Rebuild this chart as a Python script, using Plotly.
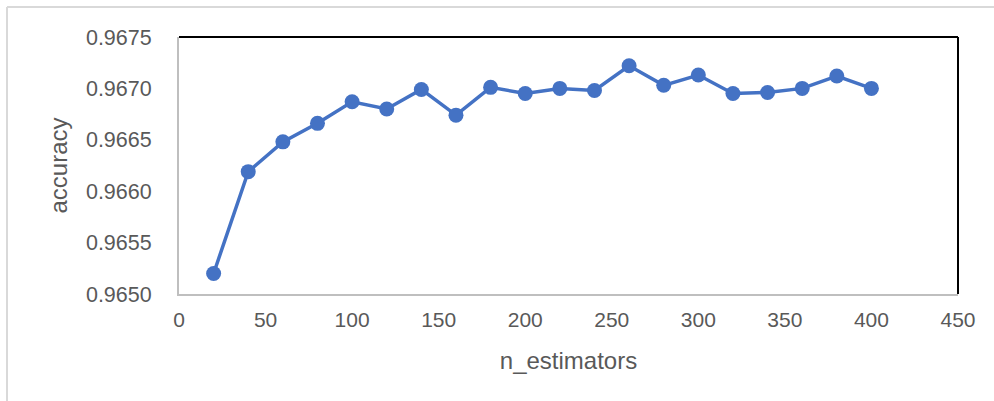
import plotly.graph_objects as go

# Random forest tuning: accuracy vs number of trees
n_estimators = [20, 40, 60, 80, 100, 120, 140, 160, 180, 200,
                220, 240, 260, 280, 300, 320, 340, 360, 380, 400]
accuracy = [0.96520, 0.96619, 0.96648, 0.96666, 0.96687, 0.96680, 0.96699, 0.96674,
            0.96701, 0.96695, 0.96700, 0.96698, 0.96722, 0.96703, 0.96713, 0.96695,
            0.96696, 0.96700, 0.96712, 0.96700]

x_ticks = [0, 50, 100, 150, 200, 250, 300, 350, 400, 450]
y_ticks = [0.9650, 0.9655, 0.9660, 0.9665, 0.9670, 0.9675]

W, H = 994, 401
L, R, T, B = 179, 958, 37, 294  # plot area edges in pixels

def px(x):
    return (x - L) / (R - L)

def py(y):
    return (B - y) / (B - T)

blue = "#4472C4"
grey_text = "#595959"
regular = "Liberation Sans, Arial, sans-serif"

fig = go.Figure(
    go.Scatter(
        x=n_estimators,
        y=accuracy,
        mode="lines+markers",
        line=dict(color=blue, width=3.5),
        marker=dict(color=blue, size=15),
        showlegend=False,
    )
)

fig.update_layout(
    width=W,
    height=H,
    margin=dict(l=L, r=W - R, t=T, b=H - B, pad=0),
    paper_bgcolor="white",
    plot_bgcolor="white",
    font=dict(family=regular, size=20, color=grey_text),
    xaxis=dict(
        range=[0, 450],
        tickvals=x_ticks,
        ticktext=[str(v) for v in x_ticks],
        tickfont=dict(family=regular, size=21, color=grey_text),
        showgrid=False,
        zeroline=False,
        showline=True,
        linecolor="#BFBFBF",
        linewidth=2,
        ticks="",
        ticklabelstandoff=6,
        title=dict(text="n_estimators", standoff=22,
                   font=dict(family=regular, size=24, color=grey_text)),
    ),
    yaxis=dict(
        range=[0.9650, 0.9675],
        tickvals=y_ticks,
        ticktext=[f"{v:.4f}" for v in y_ticks],
        tickfont=dict(family=regular, size=21.5, color=grey_text),
        showgrid=False,
        zeroline=False,
        showline=True,
        linecolor="#BFBFBF",
        linewidth=2,
        ticks="",
        ticklabelstandoff=21,
        title=dict(text="accuracy", standoff=12,
                   font=dict(family=regular, size=24, color=grey_text)),
    ),
    shapes=[
        # black top and right edges of the plot frame
        dict(type="line", xref="paper", yref="paper", x0=0, x1=1, y0=1, y1=1,
             line=dict(color="black", width=2)),
        dict(type="line", xref="paper", yref="paper", x0=1, x1=1, y0=0, y1=1,
             line=dict(color="black", width=2)),
        # light outer chart border (top and left)
        dict(type="line", xref="paper", yref="paper", x0=px(7), x1=px(W + 5),
             y0=py(7), y1=py(7), line=dict(color="#D9D9D9", width=2)),
        dict(type="line", xref="paper", yref="paper", x0=px(7), x1=px(7),
             y0=py(7), y1=py(H + 5), line=dict(color="#D9D9D9", width=2)),
    ],
)

fig.write_html("out.html")
